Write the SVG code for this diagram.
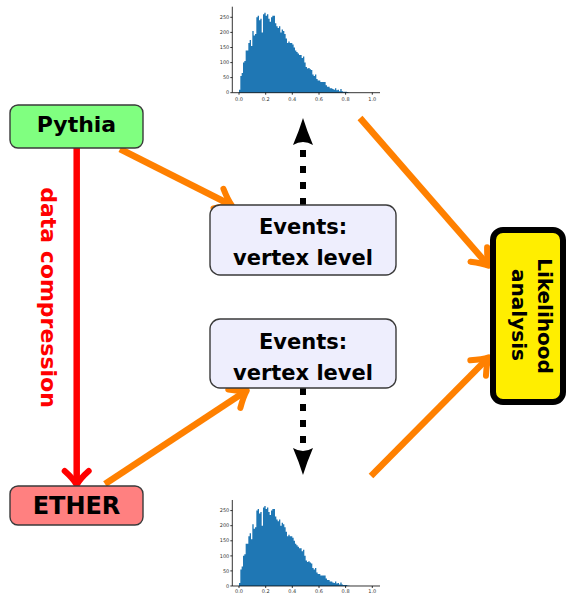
<svg xmlns="http://www.w3.org/2000/svg" xmlns:xlink="http://www.w3.org/1999/xlink" width="569" height="593" viewBox="0 0 569 593">
  <style>
    .box { stroke: #3a3a3a; stroke-width: 1.4; }
    .label { font-family: "DejaVu Sans", "Liberation Sans", sans-serif; font-weight: bold; fill: #000; text-anchor: middle; }
    .tick { font-family: "DejaVu Sans", "Liberation Sans", sans-serif; font-size: 5px; fill: #333; }
    .axis { stroke: #000; stroke-width: 0.8; fill: none; }
    .orange { stroke: #ff8000; stroke-width: 6.5; fill: none; marker-end: url(#chevron-orange); }
    .dotted { stroke: #000; stroke-width: 6; stroke-dasharray: 7 9; fill: none; marker-end: url(#stealth); }
  </style>
  <defs>
    <marker id="chevron-orange" markerUnits="userSpaceOnUse" viewBox="-20 -20 40 40" markerWidth="40" markerHeight="40" refX="0" refY="0" orient="auto" overflow="visible">
      <path d="M-14,-11 Q-5,-3 1,0 Q-5,3 -14,11" fill="none" stroke="#ff8000" stroke-width="6" stroke-linecap="round" stroke-linejoin="round"/>
    </marker>
    <marker id="chevron-red" markerUnits="userSpaceOnUse" viewBox="-20 -20 40 40" markerWidth="40" markerHeight="40" refX="0" refY="0" orient="auto" overflow="visible">
      <path d="M-13,-12 Q-5,-3 1,0 Q-5,3 -13,12" fill="none" stroke="#ff0000" stroke-width="6" stroke-linecap="round" stroke-linejoin="round"/>
    </marker>
    <marker id="stealth" markerUnits="userSpaceOnUse" viewBox="-30 -30 60 60" markerWidth="60" markerHeight="60" refX="0" refY="0" orient="auto" overflow="visible">
      <path d="M23,0 Q10,-4 -4,-10 Q2,0 -4,10 Q10,4 23,0 Z" fill="#000"/>
    </marker>
    <!-- histogram bars, bin width 0.01 on a 0..1 axis -->
    <path id="bars" fill="#1f77b4" d="M239,92.7 V89.7h1.333V76.1h1.333V73.1h1.333V62.5h1.333V61h1.333V50.5h1.333V50.5h1.333V42.9h1.333V39.9h1.333V46h1.333V30.9h1.333V35.4h1.333V33.9h1.333V17.3h1.333V15.8h1.333V20.3h1.333V18.8h1.333V32.4h1.333V14.3h1.333V12.8h1.333V15.8h1.333V14.3h1.333V18.8h1.333V21.8h1.333V17.3h1.333V15.8h1.333V15.8h1.333V23.3h1.333V26.3h1.333V27.9h1.333V26.3h1.333V32.4h1.333V29.4h1.333V30.9h1.333V33.9h1.333V38.4h1.333V42.9h1.333V41.4h1.333V42.9h1.333V42.9h1.333V44.4h1.333V47.5h1.333V50.5h1.333V52h1.333V53.5h1.333V55h1.333V55h1.333V58h1.333V56.5h1.333V62.5h1.333V67.1h1.333V68.6h1.333V68h1.333V69.2h1.333V70.1h1.333V74.6h1.333V76.1h1.333V74.6h1.333V79.1h1.333V80.6h1.333V80.6h1.333V82.1h1.333V82.1h1.333V82.1h1.333V82.1h1.333V85.2h1.333V86.7h1.333V86.7h1.333V88.2h1.333V88.2h1.333V89.1h1.333V89.7h1.333V88.2h1.333V90.3h1.333V89.7h1.333V91.2h1.333V89.1h1.333V91.2h1.333V91.8h1.333V91.8h1.333V91.8h1.333V92.1h1.333V92.4h1.333V92.7Z"/>
    <g id="hist-axes">
      <path class="axis" d="M232.3,6.7 V92.7 H380"/>
      <path class="axis" stroke-width="0.6" d="M230.3,92.7h2 M230.3,77.6h2 M230.3,62.6h2 M230.3,47.5h2 M230.3,32.4h2 M230.3,17.3h2 M239,92.7v2 M265.7,92.7v2 M292.3,92.7v2 M319,92.7v2 M345.6,92.7v2 M372.3,92.7v2"/>
    </g>
  </defs>

  <!-- histogram above the upper events box -->
  <g id="hist-top">
    <use xlink:href="#bars" href="#bars"/>
    <use xlink:href="#hist-axes" href="#hist-axes"/>
    <g class="tick" text-anchor="end">
      <text x="229.3" y="94.4">0</text>
      <text x="229.3" y="79.3">50</text>
      <text x="229.3" y="64.3">100</text>
      <text x="229.3" y="49.2">150</text>
      <text x="229.3" y="34.1">200</text>
      <text x="229.3" y="19">250</text>
    </g>
    <g class="tick" text-anchor="middle">
      <text x="239" y="101.3">0.0</text>
      <text x="265.7" y="101.3">0.2</text>
      <text x="292.3" y="101.3">0.4</text>
      <text x="319" y="101.3">0.6</text>
      <text x="345.6" y="101.3">0.8</text>
      <text x="372.3" y="101.3">1.0</text>
    </g>
  </g>

  <!-- histogram below the lower events box -->
  <g id="hist-bottom" transform="translate(0,493.3)">
    <use xlink:href="#bars" href="#bars"/>
    <use xlink:href="#hist-axes" href="#hist-axes"/>
    <g class="tick" text-anchor="end">
      <text x="229.3" y="94.4">0</text>
      <text x="229.3" y="79.3">50</text>
      <text x="229.3" y="64.3">100</text>
      <text x="229.3" y="49.2">150</text>
      <text x="229.3" y="34.1">200</text>
      <text x="229.3" y="19">250</text>
    </g>
    <g class="tick" text-anchor="middle">
      <text x="239" y="99.3">0.0</text>
      <text x="265.7" y="99.3">0.2</text>
      <text x="292.3" y="99.3">0.4</text>
      <text x="319" y="99.3">0.6</text>
      <text x="345.6" y="99.3">0.8</text>
      <text x="372.3" y="99.3">1.0</text>
    </g>
  </g>

  <!-- connectors -->
  <g id="connectors">
    <line x1="76.7" y1="148" x2="76.7" y2="484" stroke="#ff0000" stroke-width="6.5" marker-end="url(#chevron-red)"/>
    <path class="orange" d="M120,149 L231,205"/>
    <path class="orange" d="M360,118 L488,265"/>
    <path class="orange" d="M105,484 L246,391"/>
    <path class="orange" d="M371,476 L488,358"/>
    <path class="dotted" d="M303,205 V141"/>
    <path class="dotted" d="M303,388 V452"/>
  </g>

  <g id="pythia">
    <rect class="box" x="10" y="105" width="133" height="43" rx="8" fill="#80ff80"/>
    <text class="label" x="76.5" y="132" font-size="22">Pythia</text>
  </g>

  <g id="ether">
    <rect class="box" x="10" y="486" width="133" height="39" rx="8" fill="#ff8080"/>
    <text class="label" x="76.5" y="514" font-size="24">ETHER</text>
  </g>

  <g id="data-compression">
    <text class="label" transform="translate(41,297.5) rotate(90)" font-size="22" style="fill:#ff0000">data compression</text>
  </g>

  <g id="events-upper">
    <rect class="box" x="210" y="205" width="186" height="70" rx="10" fill="#eeeefd"/>
    <text class="label" x="303" y="233.5" font-size="21">Events:</text>
    <text class="label" x="303" y="265" font-size="21">vertex level</text>
  </g>

  <g id="events-lower">
    <rect class="box" x="210" y="319" width="186" height="69" rx="10" fill="#eeeefd"/>
    <text class="label" x="303" y="348.5" font-size="21">Events:</text>
    <text class="label" x="303" y="380" font-size="21">vertex level</text>
  </g>

  <g id="likelihood">
    <rect x="493" y="230" width="70" height="172" rx="10" fill="#ffee00" stroke="#000" stroke-width="6"/>
    <text class="label" transform="translate(538,316) rotate(90)" font-size="20">Likelihood</text>
    <text class="label" transform="translate(512,315) rotate(90)" font-size="20">analysis</text>
  </g>
</svg>
